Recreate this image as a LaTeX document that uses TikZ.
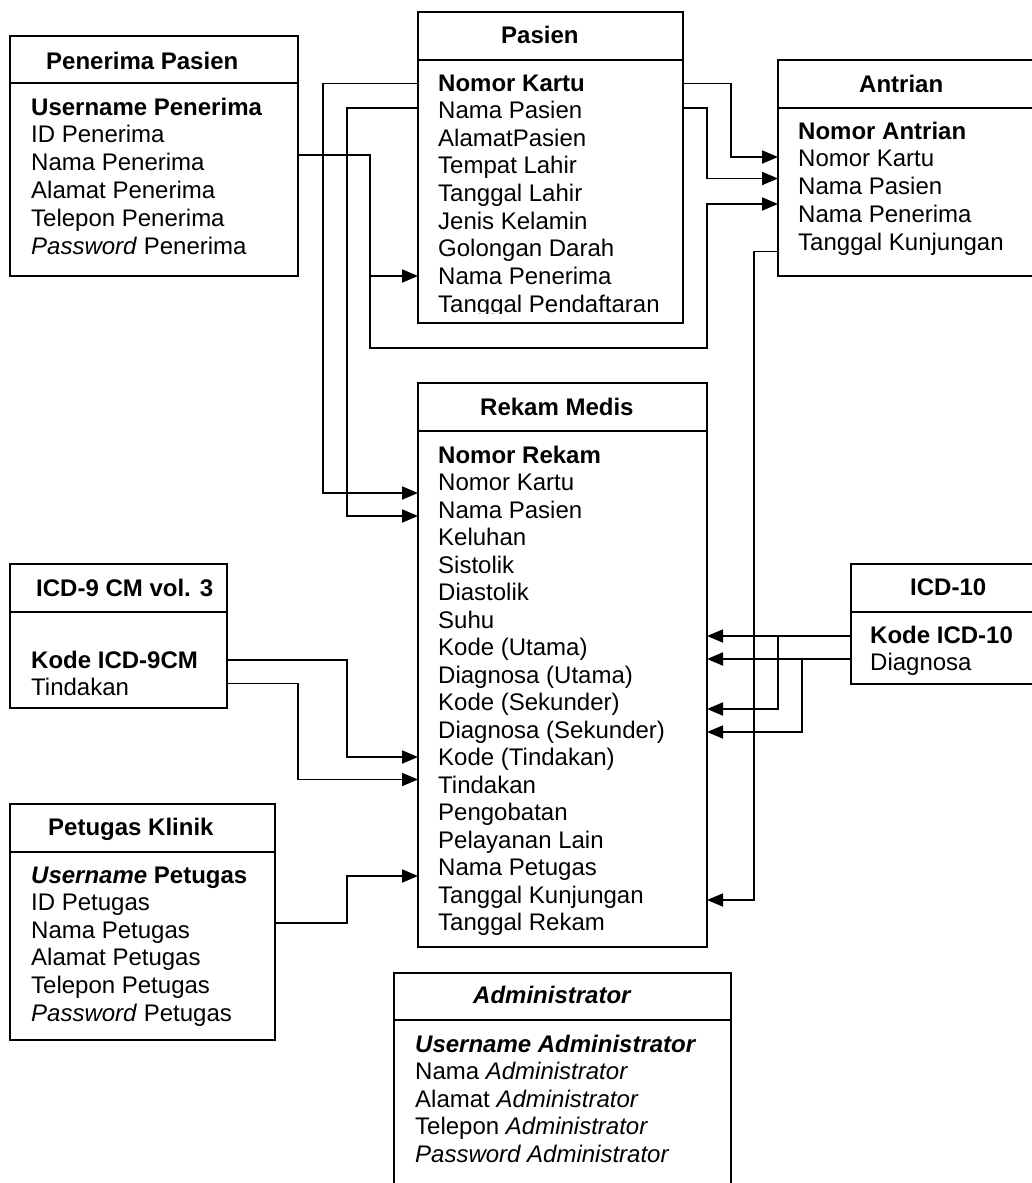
\documentclass[tikz,border=0pt]{standalone}
\usepackage{fontspec}
\setmainfont{Liberation Sans}
\usetikzlibrary{arrows.meta}
\begin{document}
\begin{tikzpicture}[x=1pt,y=-1pt,
  ent/.style={draw=black, line width=2.1pt, inner sep=0pt, outer sep=0pt, anchor=north west},
  sepline/.style={line width=2.1pt},
  ttl/.style={anchor=base west, inner sep=0pt, font=\fontsize{24}{28}\selectfont\bfseries},
  fld/.style={anchor=base west, inner sep=0pt, font=\fontsize{24}{28}\selectfont},
  link/.style={line width=1.8pt},
  fk/.style={link, -{Triangle[length=16pt,width=13pt]}},
]
\useasboundingbox (0,0) rectangle (1032,1183);

% ---------- entity boxes ----------
\node[ent, minimum width=288, minimum height=240] (penerima) at (10,36) {};
\node[ent, minimum width=265, minimum height=311] (pasien) at (418,12) {};
\node[ent, minimum width=270, minimum height=216] (antrian) at (778,60) {};
\node[ent, minimum width=289, minimum height=564] (rekam) at (418,383) {};
\node[ent, minimum width=217, minimum height=144] (icdnine) at (10,564) {};
\node[ent, minimum width=190, minimum height=120] (icdten) at (851,564) {};
\node[ent, minimum width=265, minimum height=236] (petugas) at (10,804) {};
\node[ent, minimum width=337, minimum height=230] (admin) at (394,973) {};

% header separators
\draw[sepline] (penerima.west |- 0,83) -- (penerima.east |- 0,83);
\draw[sepline] (pasien.west |- 0,60) -- (pasien.east |- 0,60);
\draw[sepline] (antrian.west |- 0,108) -- (antrian.east |- 0,108);
\draw[sepline] (rekam.west |- 0,431) -- (rekam.east |- 0,431);
\draw[sepline] (icdnine.west |- 0,612) -- (icdnine.east |- 0,612);
\draw[sepline] (icdten.west |- 0,612) -- (icdten.east |- 0,612);
\draw[sepline] (petugas.west |- 0,852) -- (petugas.east |- 0,852);
\draw[sepline] (admin.west |- 0,1020) -- (admin.east |- 0,1020);

% ---------- titles ----------
\node[ttl] (penerima-t) at (46,69) {Penerima Pasien};
\node[ttl] (pasien-t) at (501,43) {Pasien};
\node[ttl] (antrian-t) at (859,92) {Antrian};
\node[ttl] (rekam-t) at (480,415) {Rekam Medis};
\node[ttl] (icdnine-t) at (36,596) {ICD-9 CM vol. 3};
\node[ttl] (icdten-t) at (910,595) {ICD-10};
\node[ttl] (petugas-t) at (48,835) {Petugas Klinik};
\node[ttl] (admin-t) at (473,1003) {\itshape Administrator};

% ---------- attributes ----------
\foreach \t [count=\i] in {\textbf{Username Penerima}, ID Penerima, Nama Penerima,
    Alamat Penerima, Telepon Penerima, \textit{Password} Penerima}
  \node[fld] (pen\i) at (31,{115+27.8*(\i-1)}) {\t};

\foreach \t [count=\i] in {\textbf{Nomor Kartu}, Nama Pasien, AlamatPasien,
    Tempat Lahir, Tanggal Lahir, Jenis Kelamin, Golongan Darah, Nama Penerima}
  \node[fld] (pas\i) at (438,{91+27.6*(\i-1)}) {\t};
\begin{scope}
  \clip (418,0) rectangle (683,313);
  \node[fld] (pas9) at (438,312) {Tanggal Pendaftaran};
\end{scope}

\foreach \t [count=\i] in {\textbf{Nomor Antrian}, Nomor Kartu, Nama Pasien,
    Nama Penerima, Tanggal Kunjungan}
  \node[fld] (ant\i) at (798,{139+27.75*(\i-1)}) {\t};

\foreach \t [count=\i] in {\textbf{Nomor Rekam}, Nomor Kartu, Nama Pasien, Keluhan,
    Sistolik, Diastolik, Suhu, Kode (Utama), Diagnosa (Utama), Kode (Sekunder),
    Diagnosa (Sekunder), Kode (Tindakan), Tindakan, Pengobatan, Pelayanan Lain,
    Nama Petugas, Tanggal Kunjungan, Tanggal Rekam}
  \node[fld] (rek\i) at (438,{463+27.5*(\i-1)}) {\t};

\node[fld] (icn1) at (31,668) {\textbf{Kode ICD-9CM}};
\node[fld] (icn2) at (31,695) {Tindakan};

\node[fld] (ict1) at (870,643.5) {\textbf{Kode ICD-10}};
\node[fld] (ict2) at (870,670) {Diagnosa};

\foreach \t [count=\i] in {\textbf{\textit{Username} Petugas}, ID Petugas, Nama Petugas,
    Alamat Petugas, Telepon Petugas, \textit{Password} Petugas}
  \node[fld] (pet\i) at (31,{883+27.6*(\i-1)}) {\t};

\foreach \t [count=\i] in {\textbf{\textit{Username Administrator}}, Nama \textit{Administrator},
    Alamat \textit{Administrator}, Telepon \textit{Administrator},
    \textit{Password Administrator}}
  \node[fld] (adm\i) at (415,{1052+27.5*(\i-1)}) {\t};

% ---------- relations ----------
% Penerima Pasien -> Pasien, Antrian
\draw[fk] (penerima.east |- 0,155) -| (370,276) -- (pasien.west |- 0,276);
\draw[fk] (370,276) |- (707,348) |- (antrian.west |- 0,204);
% Pasien -> Antrian
\draw[fk] (pasien.east |- 0,83.5) -| (731,157) -- (antrian.west |- 0,157);
\draw[fk] (pasien.east |- 0,108) -| (707,178.5) -- (antrian.west |- 0,178.5);
% Pasien -> Rekam Medis
\draw[fk] (pasien.west |- 0,83.5) -| (323,493) -- (rekam.west |- 0,493);
\draw[fk] (pasien.west |- 0,108) -| (347,516) -- (rekam.west |- 0,516);
% Antrian -> Rekam Medis
\draw[fk] (antrian.west |- 0,251.5) -| (754,900) -- (rekam.east |- 0,900);
% ICD-10 -> Rekam Medis
\draw[fk] (icdten.west |- 0,636) -- (rekam.east |- 0,636);
\draw[fk] (778,636) |- (rekam.east |- 0,709);
\draw[fk] (icdten.west |- 0,659) -- (rekam.east |- 0,659);
\draw[fk] (802,659) |- (rekam.east |- 0,732);
% ICD-9 CM -> Rekam Medis
\draw[fk] (icdnine.east |- 0,660) -| (347,757) -- (rekam.west |- 0,757);
\draw[fk] (icdnine.east |- 0,683.5) -| (298,779.5) -- (rekam.west |- 0,779.5);
% Petugas Klinik -> Rekam Medis
\draw[fk] (petugas.east |- 0,923) -| (347,876) -- (rekam.west |- 0,876);
\end{tikzpicture}
\end{document}
